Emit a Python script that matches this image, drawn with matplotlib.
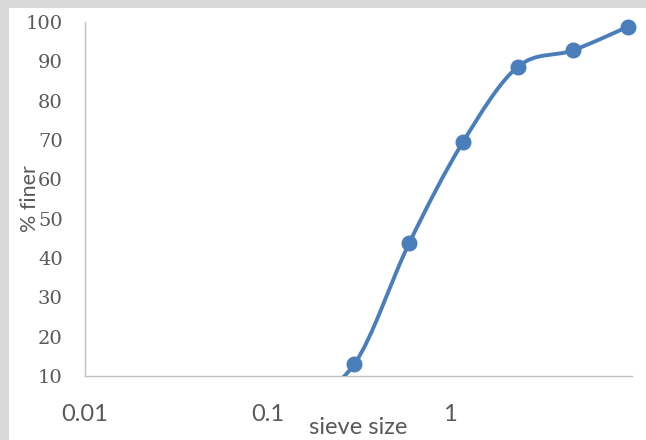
import numpy as np
import matplotlib
matplotlib.use("Agg")
from matplotlib import pyplot as plt
from matplotlib.path import Path
from matplotlib.patches import PathPatch, Rectangle

# sieve analysis data (mm, % finer)
sieve_size = [0.075, 0.15, 0.3, 0.6, 1.18, 2.36, 4.75, 9.5]
pct_finer = [1.0, 4.0, 13.0, 43.8, 69.4, 88.6, 92.8, 98.8]

x_ticks = [0.01, 0.1, 1]
x_tick_labels = ["0.01", "0.1", "1"]
y_ticks = list(range(10, 101, 10))

blue = "#4a7ebb"
grey_text = "#595959"


def smooth_path(xs, ys):
    # excel style smoothed line: catmull-rom bezier in (log x, y) space
    u = np.log10(xs)
    y = np.asarray(ys, dtype=float)
    n = len(u)
    verts = [(xs[0], y[0])]
    codes = [Path.MOVETO]
    for i in range(n - 1):
        i0 = max(i - 1, 0)
        i3 = min(i + 2, n - 1)
        c1u = u[i] + (u[i + 1] - u[i0]) / 6
        c1y = y[i] + (y[i + 1] - y[i0]) / 6
        c2u = u[i + 1] - (u[i3] - u[i]) / 6
        c2y = y[i + 1] - (y[i3] - y[i]) / 6
        verts += [(10 ** c1u, c1y), (10 ** c2u, c2y), (xs[i + 1], y[i + 1])]
        codes += [Path.CURVE4] * 3
    return Path(verts, codes)


fig = plt.figure(figsize=(6.46, 4.40), dpi=100, facecolor="#d9d9d9")
fig.patches.append(Rectangle((9 / 646, 0), 1, 1 - 8 / 440, transform=fig.transFigure,
                             facecolor="white", edgecolor="none", zorder=-1))
ax = fig.add_axes([85 / 646, 1 - 376 / 440, (632 - 85) / 646, (376 - 22) / 440])
ax.set_facecolor("none")

ax.set_xscale("log")
ax.set_xlim(0.01, 10)
ax.set_ylim(10, 100)

patch = PathPatch(smooth_path(sieve_size, pct_finer), facecolor="none",
                  edgecolor=blue, lw=2.8, transform=ax.transData, zorder=3)
ax.add_patch(patch)

vis = [(s, p) for s, p in zip(sieve_size, pct_finer) if p >= 10]
ax.plot([v[0] for v in vis], [v[1] for v in vis], "o", color=blue,
        markersize=10.5, clip_on=False, zorder=4)

ax.set_xticks(x_ticks)
ax.set_xticklabels(x_tick_labels)
ax.xaxis.set_minor_locator(matplotlib.ticker.NullLocator())
ax.set_yticks(y_ticks)
ax.tick_params(axis="both", length=0, colors=grey_text)
ax.tick_params(axis="y", pad=16, labelsize=14)
ax.tick_params(axis="x", pad=20, labelsize=17)
for lab in ax.get_yticklabels():
    lab.set_fontfamily("DejaVu Serif")
for lab in ax.get_xticklabels():
    lab.set_fontfamily("Lato")

for side in ["top", "right"]:
    ax.spines[side].set_visible(False)
for side in ["left", "bottom"]:
    ax.spines[side].set_color("#c0c0c0")
    ax.spines[side].set_linewidth(1.0)

ax.set_xlabel("sieve size", fontsize=17, family="Lato", color=grey_text, va="center")
ax.xaxis.set_label_coords(0.5, -0.145)
ax.set_ylabel("% finer", fontsize=15.5, family="Lato", color=grey_text, va="center")
ax.yaxis.set_label_coords(-0.1, 0.5)

fig.savefig("out.png", dpi=100, facecolor=fig.get_facecolor())
